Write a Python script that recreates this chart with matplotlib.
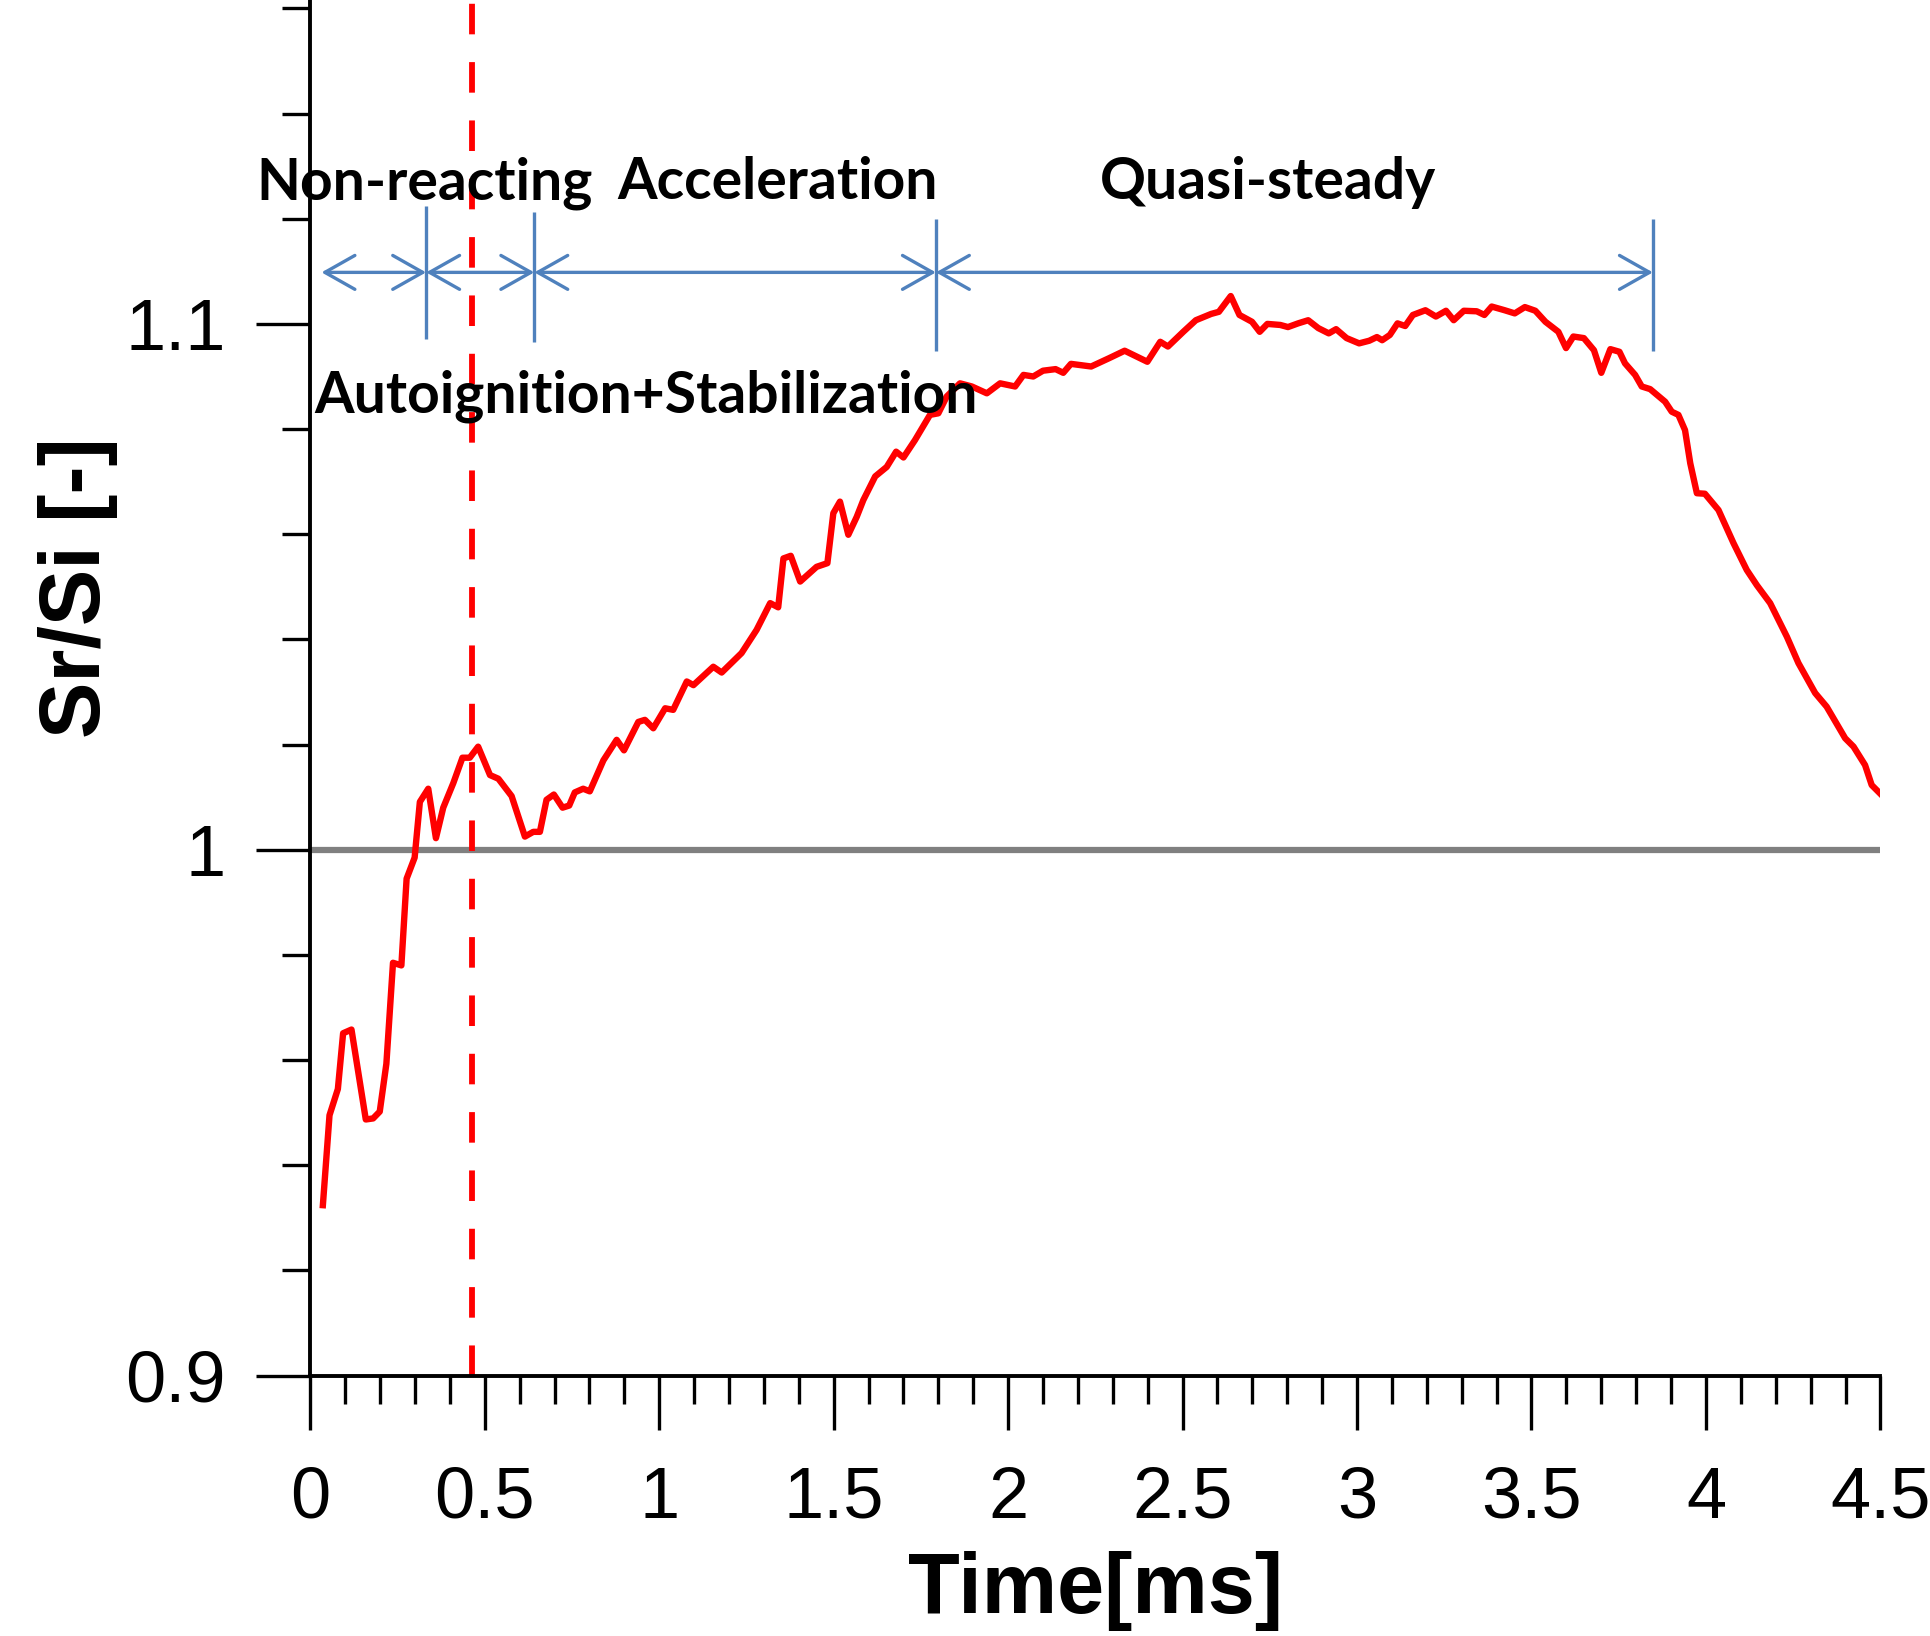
import numpy as np
import matplotlib
matplotlib.use("Agg")
import matplotlib.pyplot as plt
from matplotlib.ticker import MultipleLocator

# Sr/Si ratio vs time
time_ms = [0.036, 0.055, 0.079, 0.094, 0.118, 0.159, 0.180, 0.199, 0.218, 0.237,
           0.261, 0.276, 0.299, 0.314, 0.338, 0.360, 0.381, 0.410, 0.436, 0.457,
           0.481, 0.515, 0.539, 0.577, 0.615, 0.639, 0.658, 0.677, 0.698, 0.723,
           0.742, 0.758, 0.782, 0.801, 0.840, 0.878, 0.899, 0.940, 0.959, 0.983,
           1.017, 1.040, 1.079, 1.098, 1.155, 1.179, 1.236, 1.279, 1.318, 1.341,
           1.356, 1.377, 1.404, 1.451, 1.482, 1.499, 1.518, 1.542, 1.566, 1.585,
           1.619, 1.652, 1.679, 1.700, 1.733, 1.776, 1.800, 1.824, 1.862, 1.896,
           1.939, 1.977, 2.020, 2.044, 2.072, 2.100, 2.136, 2.158, 2.180, 2.238,
           2.290, 2.334, 2.399, 2.436, 2.458, 2.502, 2.538, 2.582, 2.604, 2.638,
           2.663, 2.699, 2.721, 2.743, 2.780, 2.802, 2.831, 2.860, 2.889, 2.919,
           2.940, 2.970, 3.006, 3.035, 3.057, 3.072, 3.094, 3.116, 3.138, 3.160,
           3.196, 3.226, 3.255, 3.277, 3.306, 3.343, 3.365, 3.386, 3.423, 3.452,
           3.481, 3.511, 3.540, 3.577, 3.599, 3.620, 3.650, 3.679, 3.700, 3.726,
           3.752, 3.768, 3.797, 3.816, 3.840, 3.883, 3.902, 3.921, 3.940, 3.955,
           3.974, 3.997, 4.036, 4.079, 4.117, 4.146, 4.184, 4.232, 4.265, 4.313,
           4.346, 4.399, 4.423, 4.456, 4.475, 4.499]
sr_si = [0.9324, 0.9495, 0.9545, 0.9651, 0.9658, 0.9487, 0.9489, 0.9502, 0.9593, 0.9785,
         0.9780, 0.9945, 0.9985, 1.0091, 1.0116, 1.0022, 1.0080, 1.0127, 1.0175, 1.0175,
         1.0196, 1.0142, 1.0135, 1.0102, 1.0025, 1.0034, 1.0034, 1.0095, 1.0105, 1.0080,
         1.0084, 1.0109, 1.0116, 1.0111, 1.0170, 1.0209, 1.0189, 1.0243, 1.0247, 1.0231,
         1.0269, 1.0266, 1.0320, 1.0313, 1.0348, 1.0337, 1.0374, 1.0418, 1.0469, 1.0461,
         1.0554, 1.0559, 1.0510, 1.0538, 1.0545, 1.0640, 1.0662, 1.0599, 1.0633, 1.0665,
         1.0710, 1.0728, 1.0757, 1.0746, 1.0779, 1.0827, 1.0830, 1.0862, 1.0887, 1.0881,
         1.0868, 1.0887, 1.0881, 1.0903, 1.0900, 1.0911, 1.0914, 1.0907, 1.0924, 1.0919,
         1.0935, 1.0949, 1.0928, 1.0966, 1.0957, 1.0985, 1.1007, 1.1019, 1.1023, 1.1053,
         1.1017, 1.1004, 1.0985, 1.1000, 1.0998, 1.0994, 1.1001, 1.1007, 1.0992, 1.0982,
         1.0990, 1.0973, 1.0963, 1.0968, 1.0975, 1.0969, 1.0979, 1.1001, 1.0996, 1.1017,
         1.1026, 1.1014, 1.1025, 1.1007, 1.1025, 1.1024, 1.1017, 1.1033, 1.1026, 1.1020,
         1.1032, 1.1025, 1.1004, 1.0985, 1.0954, 1.0976, 1.0973, 1.0950, 1.0907, 1.0952,
         1.0947, 1.0925, 1.0903, 1.0881, 1.0876, 1.0852, 1.0833, 1.0827, 1.0798, 1.0735,
         1.0678, 1.0677, 1.0646, 1.0583, 1.0532, 1.0503, 1.0469, 1.0405, 1.0355, 1.0298,
         1.0272, 1.0212, 1.0196, 1.0161, 1.0123, 1.0107]

# phase boundaries (ms) and labels
t_ignition = 0.462
bounds = [0.032, 0.332, 0.642, 1.793, 3.848]
bar_x = [0.332, 0.642, 1.793, 3.848]
bar_top = [1.1225, 1.1213, 1.1199, 1.1199]
bar_bot = [1.0972, 1.0965, 1.0948, 1.0948]
arrow_y = 1.1098
phase_names = ["Non-reacting", "Acceleration", "Quasi-steady", "Autoignition+Stabilization"]
phase_x = [0.3265, 1.338, 2.746, 0.9637]
phase_y = [1.1237, 1.1237, 1.1237, 1.0831]

xtick_vals = [0, 0.5, 1, 1.5, 2, 2.5, 3, 3.5, 4, 4.5]
xtick_labels = ["0", "0.5", "1", "1.5", "2", "2.5", "3", "3.5", "4", "4.5"]
ytick_vals = [0.9, 1.0, 1.1]
ytick_labels = ["0.9", "1", "1.1"]

blue = "#4F81BD"
plt.rcParams['font.family'] = ['Liberation Sans', 'DejaVu Sans']

fig = plt.figure(figsize=(19.31, 16.36), dpi=100)
ax = fig.add_axes([0.1607, 0.1592, 0.9738 - 0.1607, 1.0 - 0.1592])

ax.axhline(1.0, color="#808080", lw=4.5, zorder=1)
ax.plot(time_ms, sr_si, color="red", lw=4.6, zorder=3)
ax.axvline(t_ignition, color="red", lw=4.2, ls=(0, (22 / 4.2, 20 / 4.2)), zorder=2)

# phase arrows
for x0, x1 in zip(bounds[:-1], bounds[1:]):
    ax.annotate("", xy=(x1, arrow_y), xytext=(x0, arrow_y),
                arrowprops=dict(arrowstyle="<->,head_length=1.08,head_width=0.61",
                                color=blue, lw=2.4, mutation_scale=20,
                                shrinkA=0, shrinkB=0))
ax.vlines(bar_x, bar_bot, bar_top, colors=blue, lw=2.4)

for name, x, y in zip(phase_names, phase_x, phase_y):
    ax.text(x, y, name, ha="center", va="baseline", fontsize=41,
            fontweight="bold", family=["Lato", "DejaVu Sans"], zorder=5)

ax.set_xlim(0, 4.5)
ax.set_ylim(0.9, 1.1616)
ax.set_xticks(xtick_vals)
ax.set_xticklabels(xtick_labels)
ax.set_yticks(ytick_vals)
ax.set_yticklabels(ytick_labels)
ax.xaxis.set_minor_locator(MultipleLocator(0.1))
ax.yaxis.set_minor_locator(MultipleLocator(0.02))
ax.tick_params(which="major", length=39, width=2.4, labelsize=52, pad=26, direction="out")
ax.tick_params(which="minor", length=20.5, width=2.4, direction="out")
ax.tick_params(axis="y", pad=22)

for s in ["top", "right"]:
    ax.spines[s].set_visible(False)
for s in ["left", "bottom"]:
    ax.spines[s].set_linewidth(2.8)

ax.set_xlabel("Time[ms]", fontsize=61, fontweight="bold", va="baseline")
ax.xaxis.set_label_coords(0.5, -0.1726)
ax.set_ylabel("Sr/Si [-]", fontsize=61, fontweight="bold", va="baseline")
ax.yaxis.set_label_coords(-0.1339, 0.5726)

fig.savefig("out.png", dpi=100)
